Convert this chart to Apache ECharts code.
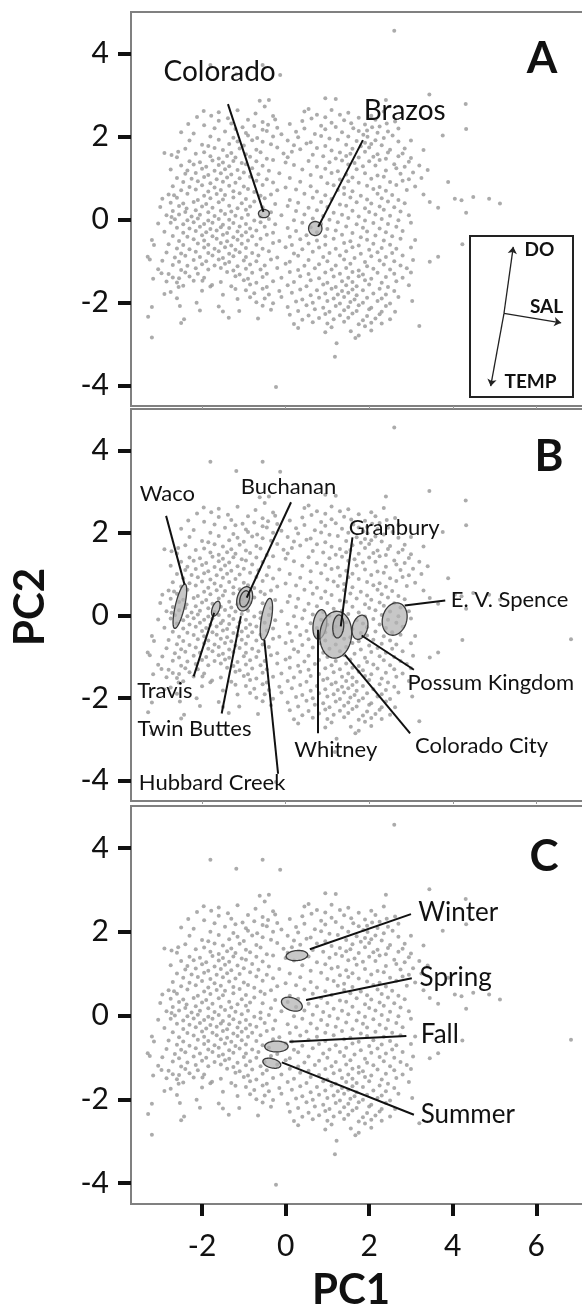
<!DOCTYPE html>
<html>
<head>
<meta charset="utf-8">
<title>PCA water quality</title>
<script src="https://cdn.jsdelivr.net/npm/echarts@6/dist/echarts.min.js"></script>
<style>
  html, body { margin: 0; padding: 0; background: #fff; }
  #chart { width: 582px; height: 1306px; }
</style>
</head>
<body>
<div id="chart"></div>
<script>
// tick values
const xTicks = [-2, 0, 2, 4, 6];
const yTicks = [-4, -2, 0, 2, 4];

// PC1 / PC2 scores of every sample (same cloud in the three panels)
const scores = [
  [2.6,4.55],[-1.8,3.72],[-0.55,3.72],[-1.18,3.5],[-0.13,3.48],
  [-0.62,2.86],[-0.4,2.88],[0.95,2.92],[1.2,2.9],[2.4,2.88],[3.44,3.01],[4.31,2.78],
  [-0.5,2.72],[0.55,2.66],[-1.96,2.61],[-1.6,2.58],[-1.15,2.63],[-0.72,2.55],[0.45,2.6],[0.75,2.52],[1.1,2.64],[1.5,2.57],[2.35,2.6],[-2.12,2.47],[-1.78,2.5],[-1.38,2.44],[-0.3,2.49],[0.95,2.46],[1.3,2.52],[1.75,2.45],[2.05,2.5],
  [-1.6,2.38],[-0.9,2.4],[-0.55,2.35],[-0.25,2.41],[0.4,2.37],[0.62,2.43],[1.4,2.39],[1.57,2.32],[2.15,2.4],[2.62,2.36],[-2.33,2.3],[-1.95,2.27],[-1.3,2.31],[-0.75,2.25],[-0.42,2.28],[0.1,2.3],[0.85,2.26],[1.1,2.33],[1.9,2.29],[2.25,2.24],[2.42,2.31],[-1.7,2.2],[-1.2,2.18],[-1.03,2.22],[-0.55,2.16],[-0.2,2.21],[0.45,2.19],[0.95,2.17],[1.2,2.23],[1.62,2.2],[1.95,2.14],[2.07,2.22],[2.7,2.19],[4.32,2.18],
  [-2.5,2.1],[-2.2,2.07],[-1.45,2.12],[-0.95,2.08],[-0.45,2.13],[-0.1,2.05],[0.25,2.11],[0.7,2.06],[1.35,2.1],[1.75,2.13],[1.86,2.04],[2.2,2.09],[2.45,2.12],[-1.8,2.0],[-1.25,1.97],[-0.9,2.02],[-0.68,1.96],[-0.3,2.0],[0.3,1.98],[0.85,2.01],[1.05,1.95],[1.5,2.0],[1.96,1.99],[2.35,1.96],[2.56,2.02],[3.76,2.02],
  [-2.3,1.9],[-1.6,1.92],[-1.15,1.88],[-0.8,1.91],[-0.55,1.87],[0.05,1.9],[0.6,1.86],[1.25,1.92],[1.7,1.89],[1.9,1.85],[2.15,1.91],[2.7,1.88],[3.0,1.9],[-2.0,1.8],[-1.85,1.77],[-1.35,1.82],[-1.0,1.78],[-0.35,1.81],[0.2,1.79],[0.5,1.83],[0.95,1.77],[1.45,1.8],[1.8,1.76],[2.05,1.82],[2.3,1.79],
  [-2.4,1.7],[-1.7,1.72],[-1.5,1.67],[-1.1,1.71],[-0.7,1.68],[-0.2,1.73],[0.35,1.69],[0.75,1.72],[1.1,1.66],[1.6,1.7],[2.0,1.73],[2.5,1.68],[2.85,1.71],[3.3,1.67],[-2.9,1.6],[-2.57,1.63],[-2.15,1.58],[-1.95,1.62],[-1.3,1.6],[-0.95,1.57],[-0.6,1.62],[-0.05,1.59],[0.15,1.63],[0.65,1.56],[1.3,1.61],[1.55,1.58],[1.9,1.63],[2.2,1.57],[2.45,1.61],[2.8,1.59],
  [-2.73,1.55],[-2.6,1.5],[-1.8,1.52],[-1.6,1.47],[-1.4,1.53],[-1.2,1.49],[-0.85,1.51],[-0.45,1.46],[0.05,1.5],[0.9,1.52],[1.2,1.47],[1.45,1.53],[1.75,1.49],[2.1,1.51],[2.4,1.46],[2.7,1.52],[3.0,1.48],[-2.3,1.4],[-2.05,1.38],[-1.75,1.42],[-1.5,1.37],[-1.25,1.41],[-1.05,1.36],[-0.7,1.4],[-0.3,1.43],[0.0,1.37],[0.55,1.41],[1.05,1.38],[1.35,1.42],[1.65,1.36],[2.0,1.4],[2.25,1.43],[2.95,1.39],
  [-2.5,1.3],[-2.2,1.32],[-1.9,1.27],[-1.6,1.31],[-1.35,1.28],[-0.95,1.33],[-0.55,1.29],[0.2,1.31],[0.75,1.27],[1.5,1.32],[1.85,1.28],[2.15,1.3],[2.6,1.33],[2.85,1.27],[3.2,1.3],[-2.75,1.2],[-2.35,1.18],[-2.0,1.22],[-1.7,1.17],[-1.45,1.21],[-1.15,1.19],[-0.8,1.23],[-0.4,1.17],[0.4,1.2],[0.95,1.22],[1.25,1.16],[1.7,1.21],[2.4,1.18],[2.65,1.23],[3.4,1.19],
  [-2.4,1.1],[-2.15,1.12],[-1.85,1.07],[-1.55,1.11],[-1.3,1.08],[-1.0,1.13],[-0.65,1.09],[-0.15,1.11],[0.6,1.07],[1.1,1.12],[1.45,1.08],[1.9,1.11],[2.2,1.06],[2.75,1.1],[3.05,1.13],[-2.6,1.0],[-2.25,0.98],[-1.95,1.02],[-1.65,0.97],[-1.4,1.01],[-1.1,0.99],[-0.85,1.03],[-0.45,0.97],[0.1,1.0],[0.85,1.02],[1.3,0.96],[1.6,1.01],[2.05,0.98],[2.35,1.03],[2.95,0.97],[3.25,1.0],
  [-2.45,0.9],[-2.1,0.92],[-1.8,0.87],[-1.5,0.91],[-1.2,0.88],[-0.7,0.93],[-0.3,0.89],[0.35,0.91],[1.0,0.87],[1.5,0.92],[1.75,0.88],[2.5,0.9],[2.8,0.93],[3.89,0.9],[-2.7,0.8],[-2.3,0.78],[-2.0,0.82],[-1.7,0.77],[-1.35,0.81],[-1.0,0.79],[-0.55,0.83],[0.0,0.77],[0.6,0.8],[1.15,0.82],[1.4,0.76],[1.95,0.81],[2.25,0.78],[2.65,0.83],[3.1,0.79],
  [-2.5,0.7],[-2.15,0.72],[-1.85,0.67],[-1.55,0.71],[-1.25,0.68],[-0.9,0.73],[-0.75,0.66],[-0.2,0.7],[0.25,0.72],[0.75,0.67],[1.25,0.71],[1.6,0.68],[2.1,0.73],[2.4,0.69],[2.9,0.71],[-2.8,0.6],[-2.67,0.58],[-2.35,0.62],[-1.95,0.57],[-1.65,0.61],[-1.45,0.59],[-1.1,0.63],[-0.6,0.57],[-0.35,0.6],[0.45,0.62],[0.95,0.58],[1.4,0.61],[1.8,0.57],[2.2,0.62],[2.55,0.59],[3.3,0.6],
  [-2.95,0.5],[-2.6,0.52],[-2.1,0.47],[-1.8,0.51],[-1.5,0.48],[-1.25,0.53],[-0.95,0.49],[-0.5,0.51],[0.1,0.47],[0.65,0.52],[1.1,0.49],[1.55,0.53],[1.95,0.48],[2.3,0.51],[2.7,0.47],[4.05,0.5],[4.21,0.46],[4.49,0.54],[4.87,0.5],[3.45,0.42],[-2.75,0.4],[-2.45,0.38],[-2.2,0.42],[-1.9,0.37],[-1.6,0.41],[-1.05,0.39],[-0.75,0.43],[-0.25,0.37],[0.3,0.4],[0.85,0.42],[1.3,0.36],[1.7,0.41],[2.05,0.38],[2.45,0.43],[2.85,0.39],[5.13,0.38],
  [-3.0,0.3],[-2.55,0.32],[-2.37,0.26],[-2.0,0.31],[-1.75,0.28],[-1.35,0.33],[-1.15,0.27],[-0.85,0.31],[-0.55,0.29],[0.05,0.32],[0.55,0.28],[1.0,0.3],[1.45,0.33],[1.9,0.27],[2.25,0.31],[2.6,0.29],[3.65,0.28],[-2.7,0.2],[-2.4,0.18],[-2.15,0.22],[-1.85,0.17],[-1.55,0.21],[-1.3,0.19],[-0.95,0.23],[-0.35,0.17],[0.25,0.2],[0.75,0.22],[1.15,0.16],[1.6,0.21],[2.0,0.18],[2.35,0.23],[2.75,0.19],[4.32,0.16],
  [-2.85,0.1],[-2.73,0.06],[-2.55,0.12],[-2.25,0.07],[-2.05,0.11],[-1.7,0.08],[-1.45,0.13],[-1.2,0.09],[-0.9,0.11],[-0.6,0.07],[-0.1,0.1],[0.45,0.12],[0.9,0.08],[1.35,0.11],[1.75,0.07],[2.15,0.12],[2.5,0.09],[2.95,0.1],[-2.65,0.0],[-2.35,-0.02],[-2.1,0.02],[-1.85,-0.03],[-1.6,0.01],[-1.35,-0.01],[-1.05,0.03],[-0.75,-0.03],[-0.4,0.01],[0.2,-0.02],[0.65,0.02],[1.05,-0.01],[1.5,0.03],[1.9,-0.03],[2.3,0.01],[2.7,-0.02],
  [-3.05,-0.1],[-2.75,-0.08],[-2.45,-0.12],[-2.2,-0.07],[-1.95,-0.11],[-1.75,-0.08],[-1.5,-0.13],[-1.25,-0.09],[-0.95,-0.11],[-0.6,-0.07],[-0.25,-0.12],[0.4,-0.08],[0.85,-0.11],[1.25,-0.07],[1.7,-0.12],[2.1,-0.09],[2.45,-0.11],[3.0,-0.08],[-2.6,-0.2],[-2.3,-0.22],[-2.05,-0.18],[-1.8,-0.23],[-1.55,-0.19],[-1.35,-0.21],[-1.1,-0.17],[-0.85,-0.22],[-0.5,-0.18],[0.05,-0.21],[0.6,-0.19],[1.0,-0.23],[1.45,-0.17],[1.85,-0.2],[2.25,-0.22],[2.65,-0.18],
  [-2.9,-0.3],[-2.45,-0.32],[-2.15,-0.28],[-1.9,-0.31],[-1.65,-0.27],[-1.4,-0.33],[-1.15,-0.29],[-0.95,-0.31],[-0.7,-0.27],[-0.3,-0.32],[0.25,-0.28],[0.75,-0.31],[1.2,-0.27],[1.6,-0.33],[1.95,-0.29],[2.4,-0.31],[2.8,-0.28],[-2.7,-0.4],[-2.35,-0.42],[-2.0,-0.38],[-1.75,-0.41],[-1.5,-0.37],[-1.25,-0.43],[-1.05,-0.39],[-0.8,-0.41],[-0.45,-0.37],[0.1,-0.42],[0.5,-0.38],[0.95,-0.41],[1.35,-0.37],[1.8,-0.43],[2.15,-0.39],[2.55,-0.41],
  [-3.2,-0.5],[-2.55,-0.52],[-2.2,-0.48],[-1.95,-0.51],[-1.65,-0.47],[-1.4,-0.53],[-1.15,-0.49],[-0.9,-0.51],[-0.6,-0.47],[-0.15,-0.52],[0.35,-0.48],[0.75,-0.51],[1.15,-0.47],[1.55,-0.53],[1.95,-0.49],[2.35,-0.51],[2.75,-0.47],[3.1,-0.5],[-2.8,-0.6],[-2.45,-0.62],[-2.1,-0.58],[-1.85,-0.61],[-1.55,-0.57],[-1.3,-0.63],[-1.05,-0.59],[-0.7,-0.61],[-0.3,-0.57],[0.15,-0.62],[0.55,-0.58],[0.95,-0.61],[1.4,-0.57],[1.75,-0.63],[2.1,-0.59],[2.5,-0.61],[4.23,-0.6],[6.83,-0.58],[-3.15,-0.62],
  [-2.6,-0.7],[-2.3,-0.72],[-1.95,-0.68],[-1.7,-0.71],[-1.45,-0.67],[-1.2,-0.73],[-0.95,-0.69],[-0.55,-0.71],[0.0,-0.67],[0.4,-0.72],[0.8,-0.68],[1.2,-0.71],[1.6,-0.67],[2.0,-0.73],[2.3,-0.69],[2.65,-0.71],[3.0,-0.68],[-2.85,-0.8],[-2.5,-0.82],[-2.15,-0.78],[-1.85,-0.81],[-1.6,-0.77],[-1.35,-0.83],[-1.1,-0.79],[-0.8,-0.81],[-0.4,-0.77],[0.2,-0.82],[0.65,-0.78],[1.05,-0.81],[1.45,-0.77],[1.8,-0.83],[2.2,-0.79],[2.55,-0.81],
  [-3.3,-0.9],[-2.65,-0.92],[-2.4,-0.88],[-2.05,-0.91],[-1.75,-0.87],[-1.5,-0.93],[-1.25,-0.89],[-0.95,-0.91],[-0.65,-0.87],[-0.2,-0.92],[0.3,-0.88],[0.9,-0.91],[1.3,-0.87],[1.65,-0.93],[2.05,-0.89],[2.4,-0.91],[2.8,-0.87],[3.65,-0.9],[-3.25,-0.97],[-2.95,-1.0],[-2.55,-1.02],[-2.2,-0.98],[-1.9,-1.01],[-1.6,-0.97],[-1.35,-1.03],[-1.0,-0.99],[-0.7,-1.01],[-0.35,-0.97],[0.1,-1.02],[0.55,-0.98],[1.0,-1.01],[1.4,-0.97],[1.9,-1.03],[2.25,-0.99],[2.6,-1.01],[3.45,-1.02],[3.05,-0.98],
  [-2.7,-1.1],[-2.35,-1.12],[-2.0,-1.08],[-1.7,-1.11],[-1.45,-1.07],[-1.15,-1.13],[-0.85,-1.09],[-0.5,-1.11],[0.0,-1.07],[0.45,-1.12],[0.8,-1.08],[1.2,-1.11],[1.55,-1.07],[1.95,-1.13],[2.35,-1.09],[2.75,-1.11],[-3.05,-1.2],[-2.5,-1.22],[-2.15,-1.18],[-1.85,-1.21],[-1.55,-1.17],[-1.25,-1.23],[-0.95,-1.19],[-0.6,-1.21],[-0.2,-1.17],[0.3,-1.22],[0.7,-1.18],[1.1,-1.21],[1.45,-1.17],[1.75,-1.23],[2.1,-1.19],[2.5,-1.21],[2.9,-1.18],
  [-2.97,-1.3],[-2.8,-1.32],[-2.4,-1.28],[-2.1,-1.31],[-1.4,-1.27],[-1.1,-1.33],[-0.8,-1.29],[-0.45,-1.31],[0.1,-1.27],[0.55,-1.32],[0.95,-1.28],[1.3,-1.31],[1.6,-1.27],[1.85,-1.33],[2.2,-1.29],[2.6,-1.31],[3.0,-1.28],[-3.17,-1.43],[-2.7,-1.4],[-2.55,-1.42],[-2.3,-1.38],[-1.95,-1.41],[-1.2,-1.37],[-0.9,-1.43],[-0.55,-1.39],[-0.1,-1.41],[0.35,-1.37],[0.8,-1.42],[1.15,-1.38],[1.5,-1.41],[1.75,-1.37],[2.05,-1.43],[2.4,-1.39],[2.8,-1.41],
  [-2.85,-1.5],[-2.6,-1.52],[-2.2,-1.48],[-1.99,-1.48],[-1.55,-1.51],[-1.0,-1.47],[-0.7,-1.53],[-0.3,-1.49],[0.2,-1.51],[0.6,-1.47],[1.0,-1.53],[1.35,-1.49],[1.6,-1.51],[1.9,-1.47],[2.3,-1.53],[2.65,-1.49],[-2.56,-1.63],[-2.45,-1.6],[-1.8,-1.62],[-1.76,-1.58],[-1.3,-1.61],[-0.85,-1.57],[-0.45,-1.63],[0.05,-1.59],[0.5,-1.61],[0.9,-1.57],[1.2,-1.63],[1.45,-1.59],[1.7,-1.61],[2.0,-1.57],[2.45,-1.63],[2.95,-1.59],
  [-2.75,-1.75],[-2.0,-1.72],[-1.2,-1.68],[-0.95,-1.71],[-0.55,-1.67],[-0.15,-1.73],[0.35,-1.69],[0.75,-1.71],[1.1,-1.67],[1.35,-1.73],[1.6,-1.69],[1.85,-1.71],[2.25,-1.67],[2.6,-1.73],[-2.9,-1.8],[-1.5,-1.82],[-0.75,-1.78],[-0.4,-1.81],[0.15,-1.77],[0.6,-1.83],[0.95,-1.79],[1.25,-1.81],[1.5,-1.77],[1.7,-1.83],[2.1,-1.79],[2.4,-1.81],
  [-2.6,-1.9],[-1.15,-1.92],[-0.85,-1.88],[-0.5,-1.91],[-0.1,-1.87],[0.4,-1.93],[0.8,-1.89],[1.15,-1.91],[1.4,-1.87],[1.65,-1.93],[1.95,-1.89],[2.3,-1.91],[2.7,-1.87],[3.03,-1.97],[-2.13,-2.01],[-0.7,-2.0],[-0.3,-2.02],[0.25,-1.98],[0.65,-2.01],[1.0,-1.97],[1.3,-2.03],[1.55,-1.99],[1.85,-2.01],[2.2,-1.97],[2.5,-2.03],
  [-3.2,-2.11],[-2.53,-2.09],[-1.6,-2.1],[-1.11,-2.21],[-0.55,-2.08],[0.05,-2.11],[0.5,-2.07],[0.9,-2.13],[1.2,-2.09],[1.5,-2.11],[1.75,-2.07],[2.05,-2.13],[2.4,-2.09],[-2.05,-2.2],[-1.5,-2.22],[-0.35,-2.18],[0.3,-2.21],[0.7,-2.17],[1.05,-2.23],[1.4,-2.19],[1.7,-2.21],[2.0,-2.17],[2.3,-2.23],[2.62,-2.23],
  [-3.29,-2.35],[-2.43,-2.41],[-1.36,-2.37],[-0.66,-2.39],[0.1,-2.3],[0.55,-2.32],[0.95,-2.28],[1.3,-2.31],[1.6,-2.27],[1.95,-2.33],[2.25,-2.29],[0.4,-2.42],[0.8,-2.38],[1.15,-2.41],[1.5,-2.37],[1.85,-2.43],[2.15,-2.39],[2.5,-2.41],
  [-2.5,-2.5],[0.2,-2.52],[0.65,-2.48],[1.0,-2.51],[1.4,-2.47],[1.75,-2.53],[2.05,-2.49],[2.3,-2.51],[0.3,-2.62],[1.1,-2.6],[1.56,-2.7],[1.9,-2.58],[3.2,-2.57],[0.95,-2.72],[1.67,-2.86],[2.05,-2.68],[1.75,-2.8],[-3.2,-2.85],[1.22,-2.99],[1.18,-3.31],[-0.23,-4.04]
];

// panel A: rivers. ellipse = [cx, cy, semi-axis x, semi-axis y, rotation deg]
const riverNames = ['Colorado', 'Brazos'];
const riverEllipses = [[-0.52, 0.14, 0.13, 0.1, 0], [0.71, -0.22, 0.16, 0.17, 0]];
const riverLabelX = [-1.58, 2.85];
const riverLabelY = [3.55, 2.61];
const riverLeaders = [[-1.38, 2.78, -0.53, 0.18], [1.85, 1.91, 0.78, -0.18]];

// panel B: reservoirs
const siteNames = ['Waco', 'Buchanan', 'Granbury', 'E. V. Spence', 'Possum Kingdom', 'Colorado City',
  'Whitney', 'Travis', 'Twin Buttes', 'Hubbard Creek'];
const siteLabelX = [-2.83, 0.07, 2.6, 5.36, 4.91, 4.69, 1.2, -2.89, -2.18, -1.76];
const siteLabelY = [2.95, 3.11, 2.13, 0.38, -1.63, -3.16, -3.26, -1.82, -2.75, -4.05];
const siteLeaders = [
  [-2.86, 2.41, -2.42, 0.75], [0.13, 2.74, -0.93, 0.43], [1.6, 1.89, 1.32, -0.27],
  [3.82, 0.36, 2.85, 0.24], [3.07, -1.32, 1.82, -0.49], [2.98, -2.86, 1.42, -0.96],
  [0.76, -2.86, 0.76, -0.35], [-2.2, -1.48, -1.71, 0.06], [-1.53, -2.38, -1.07, -0.02],
  [-0.18, -3.84, -0.51, -0.59]
];
const siteEllipses = [
  [-2.53, 0.22, 0.11, 0.55, -13],  // Waco
  [-1.67, 0.16, 0.085, 0.19, -20], // Travis
  [-0.98, 0.4, 0.18, 0.3, -15],    // Buchanan
  [-0.98, 0.4, 0.11, 0.2, -15],
  [-0.46, -0.09, 0.12, 0.51, -10], // Hubbard Creek
  [0.82, -0.22, 0.16, 0.36, -8],   // Whitney
  [1.2, -0.47, 0.38, 0.57, -5],    // Colorado City
  [1.26, -0.27, 0.13, 0.28, -5],   // Granbury
  [1.78, -0.29, 0.18, 0.3, -15],   // Possum Kingdom
  [2.61, -0.09, 0.29, 0.4, -15]    // E. V. Spence
];

// panel C: seasons
const seasonNames = ['Winter', 'Spring', 'Fall', 'Summer'];
const seasonLabelX = [4.13, 4.07, 3.69, 4.36];
const seasonLabelY = [2.45, 0.9, -0.45, -2.37];
const seasonLeaders = [[3.0, 2.42, 0.58, 1.58], [3.02, 0.89, 0.49, 0.37], [2.89, -0.49, 0.09, -0.63], [3.07, -2.37, -0.09, -1.12]];
const seasonEllipses = [[0.27, 1.43, 0.26, 0.12, 5], [0.15, 0.27, 0.26, 0.15, -20], [-0.22, -0.74, 0.28, 0.13, 0], [-0.33, -1.14, 0.22, 0.11, -15]];

// loading vectors of the inset
const loadingNames = ['DO', 'SAL', 'TEMP'];
const loadingX = [0.09, 0.555, -0.129];
const loadingY = [0.413, -0.059, -0.453];
const loadingLabelX = [0.345, 0.413, 0.258];
const loadingLabelY = [0.392, 0.039, -0.427];

const FONT = 'Lato, "Open Sans", sans-serif';
const myChart = echarts.init(document.getElementById('chart'));

function ellipseItem(params, api) {
  const cx = api.value(0), cy = api.value(1), a = api.value(2), b = api.value(3);
  const ang = api.value(4) * Math.PI / 180;
  const pts = [];
  for (let i = 0; i < 60; i++) {
    const t = i / 60 * Math.PI * 2;
    const dx = a * Math.cos(t), dy = b * Math.sin(t);
    pts.push(api.coord([cx + dx * Math.cos(ang) - dy * Math.sin(ang), cy + dx * Math.sin(ang) + dy * Math.cos(ang)]));
  }
  return {
    type: 'polygon',
    shape: { points: pts },
    style: { fill: 'rgba(178,178,178,0.72)', stroke: '#3a3a3a', lineWidth: 1.3 }
  };
}

function ellipseSeries(list, idx) {
  return { type: 'custom', xAxisIndex: idx, yAxisIndex: idx, data: list, renderItem: ellipseItem, z: 3, silent: true };
}

function leaderSeries(list, idx) {
  return {
    type: 'lines', coordinateSystem: 'cartesian2d', xAxisIndex: idx, yAxisIndex: idx, silent: true, z: 4,
    lineStyle: { color: '#111', width: 2, opacity: 1 },
    data: list.map(s => ({ coords: [[s[0], s[1]], [s[2], s[3]]] }))
  };
}

function labelSeries(names, xs, ys, idx, size, weight, z) {
  return {
    type: 'custom', xAxisIndex: idx, yAxisIndex: idx, silent: true, z: z || 5,
    data: xs.map((x, i) => [x, ys[i]]),
    renderItem: function (params, api) {
      const p = api.coord([api.value(0), api.value(1)]);
      return {
        type: 'text', x: p[0], y: p[1],
        style: {
          text: names[params.dataIndex], fill: '#111', fontSize: size, fontFamily: FONT,
          fontWeight: weight || 'normal', align: 'center', verticalAlign: 'middle'
        }
      };
    }
  };
}

function scoreSeries(idx) {
  return {
    type: 'scatter', xAxisIndex: idx, yAxisIndex: idx, data: scores, symbolSize: 4, silent: true, z: 2,
    itemStyle: { color: '#969696' }
  };
}

const panelTops = [12, 409, 806];
const panelHeights = [394, 392, 398];

function xAxisFor(idx) {
  const last = idx === 2;
  return {
    type: 'value', gridIndex: idx, min: -3.7, max: 7.5,
    axisLine: { show: false, onZero: false },
    splitLine: { show: false },
    axisTick: last
      ? { show: true, customValues: xTicks, length: 12, lineStyle: { color: '#111', width: 4 } }
      : { show: true, customValues: xTicks, length: 3, lineStyle: { color: '#999', width: 1 } },
    axisLabel: last
      ? { show: true, customValues: xTicks, fontSize: 30, fontFamily: FONT, color: '#111', margin: 27 }
      : { show: false }
  };
}

function yAxisFor(idx) {
  return {
    type: 'value', gridIndex: idx, min: -4.5, max: 5,
    axisLine: { show: false, onZero: false },
    splitLine: { show: false },
    axisTick: { show: true, customValues: yTicks, length: 13, lineStyle: { color: '#111', width: 4 } },
    axisLabel: { show: true, customValues: yTicks, fontSize: 30, fontFamily: FONT, color: '#111', margin: 22 }
  };
}

const grids = panelTops.map((t, i) => ({
  left: 131, top: t, width: 468, height: panelHeights[i], outerBoundsMode: 'none', containLabel: false,
  show: true, borderColor: '#808080', borderWidth: 2, backgroundColor: '#fff'
}));
// inset with the loading vectors
grids.push({ left: 470, top: 236, width: 103, height: 161, outerBoundsMode: 'none', show: true, borderColor: '#222', borderWidth: 2, backgroundColor: '#fff', z: 10 });

const option = {
  animation: false,
  backgroundColor: '#fff',
  grid: grids,
  xAxis: [xAxisFor(0), xAxisFor(1), xAxisFor(2),
    { type: 'value', gridIndex: 3, min: -0.33, max: 0.67, show: false }],
  yAxis: [yAxisFor(0), yAxisFor(1), yAxisFor(2),
    { type: 'value', gridIndex: 3, min: -0.52, max: 0.48, show: false }],
  graphic: [
    { type: 'text', x: 542, y: 59, style: { text: 'A', fontSize: 44, fontWeight: 'bold', fontFamily: FONT, fill: '#111', align: 'center', verticalAlign: 'middle' } },
    { type: 'text', x: 549, y: 457, style: { text: 'B', fontSize: 44, fontWeight: 'bold', fontFamily: FONT, fill: '#111', align: 'center', verticalAlign: 'middle' } },
    { type: 'text', x: 544, y: 857, style: { text: 'C', fontSize: 44, fontWeight: 'bold', fontFamily: FONT, fill: '#111', align: 'center', verticalAlign: 'middle' } },
    { type: 'text', x: 30, y: 607, rotation: Math.PI / 2, style: { text: 'PC2', fontSize: 42, fontWeight: 'bold', fontFamily: FONT, fill: '#111', align: 'center', verticalAlign: 'middle' } },
    { type: 'text', x: 351, y: 1290, style: { text: 'PC1', fontSize: 42, fontWeight: 'bold', fontFamily: FONT, fill: '#111', align: 'center', verticalAlign: 'middle' } }
  ],
  series: [
    scoreSeries(0), scoreSeries(1), scoreSeries(2),
    ellipseSeries(riverEllipses, 0), leaderSeries(riverLeaders, 0),
    labelSeries(riverNames, riverLabelX, riverLabelY, 0, 28),
    ellipseSeries(siteEllipses, 1), leaderSeries(siteLeaders, 1),
    labelSeries(siteNames, siteLabelX, siteLabelY, 1, 22),
    ellipseSeries(seasonEllipses, 2), leaderSeries(seasonLeaders, 2),
    labelSeries(seasonNames, seasonLabelX, seasonLabelY, 2, 26),
    {
      type: 'lines', coordinateSystem: 'cartesian2d', xAxisIndex: 3, yAxisIndex: 3, silent: true, z: 12,
      symbol: ['none', 'arrow'], symbolSize: 7,
      lineStyle: { color: '#222', width: 1.3, opacity: 1 },
      data: loadingX.map((x, i) => ({ coords: [[0, 0], [x, loadingY[i]]] }))
    },
    labelSeries(loadingNames, loadingLabelX, loadingLabelY, 3, 19, 'bold', 12)
  ]
};
myChart.setOption(option);
</script>
</body>
</html>
